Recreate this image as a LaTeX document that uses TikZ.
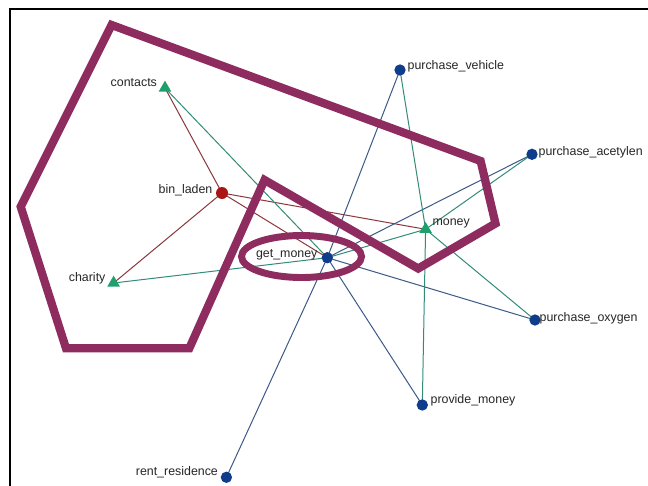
\documentclass[tikz,border=0pt]{standalone}
\usepackage{fontspec}
\setmainfont{Liberation Sans}
\usetikzlibrary{shapes.geometric}
\definecolor{hull}{RGB}{142,44,96}
\definecolor{agentblue}{RGB}{16,60,140}
\definecolor{ladenred}{RGB}{170,20,20}
\definecolor{resgreen}{RGB}{30,160,110}
\definecolor{edgered}{RGB}{140,55,60}
\definecolor{edgeteal}{RGB}{50,140,120}
\definecolor{edgeblue}{RGB}{60,90,135}
\tikzset{
  agent/.style={circle,fill=agentblue,inner sep=0pt,minimum size=8.5pt},
  leader/.style={circle,fill=ladenred,inner sep=0pt,minimum size=9pt},
  res/.style={regular polygon,regular polygon sides=3,fill=resgreen,inner sep=0pt,minimum size=11pt},
  lab/.style={font=\fontsize{9.3}{10}\selectfont,inner sep=1pt,text=black!85},
  redge/.style={draw=edgered,line width=0.75pt},
  tedge/.style={draw=edgeteal,line width=0.75pt},
  bedge/.style={draw=edgeblue,line width=0.75pt},
  hullline/.style={draw=hull,line width=6.2pt,line join=miter}
}
\begin{document}
\begin{tikzpicture}[x=0.75pt,y=-0.75pt]
\useasboundingbox (0,0) rectangle (648,485);
\fill[white] (0,0) rectangle (648,485);
\draw[black,line width=1.5pt] (10,490) -- (10,9) -- (650,9);
% node positions
\coordinate (pcon) at (165,88);
\coordinate (pbl) at (222,193);
\coordinate (pcha) at (113.6,283);
\coordinate (pgm) at (327.3,257.7);
\coordinate (pmon) at (425.6,229.3);
\coordinate (ppv) at (400,70);
\coordinate (ppa) at (532,154.3);
\coordinate (ppo) at (535,320);
\coordinate (ppm) at (422.3,405);
\coordinate (prr) at (226.4,477.3);
% edges
\draw[redge] (pbl) -- (pcon);
\draw[redge] (pbl) -- (pcha);
\draw[redge] (pbl) -- (pgm);
\draw[redge] (pbl) -- (pmon);
\draw[tedge] (pcon) -- (pgm);
\draw[tedge] (pcha) -- (pgm);
\draw[tedge] (pgm) -- (pmon);
\draw[bedge] (pgm) -- (ppv);
\draw[bedge] (pgm) -- (ppa);
\draw[bedge] (pgm) -- (ppo);
\draw[bedge] (pgm) -- (ppm);
\draw[bedge] (pgm) -- (prr);
\draw[tedge] (ppv) -- (pmon);
\draw[tedge] (pmon) -- (ppm);
\draw[tedge] (pmon) -- (ppa);
\draw[tedge] (pmon) -- (ppo);
% hull shapes
\draw[hullline] (111.6,25) -- (480.6,161) -- (495.5,223.5) -- (418.2,268.5) -- (264.5,180) -- (189.3,348.3) -- (66,348.3) -- (20.7,206.7) -- cycle;
\draw[draw=hull,line width=5.2pt] (301.5,256.5) ellipse [x radius=60,y radius=21];
% nodes
\node[res] (con) at (pcon) {};
\node[leader] (bl) at (pbl) {};
\node[res] (cha) at (pcha) {};
\node[agent] (gm) at (pgm) {};
\node[res] (mon) at (pmon) {};
\node[agent] (pv) at (ppv) {};
\node[agent] (pa) at (ppa) {};
\node[agent] (po) at (ppo) {};
\node[agent] (pm) at (ppm) {};
\node[agent] (rr) at (prr) {};
% labels
\node[lab,anchor=east] (lcon) at (158.5,83) {contacts};
\node[lab,anchor=east] (lbl) at (214,190.5) {bin\_laden};
\node[lab,anchor=east] (lcha) at (107,278) {charity};
\node[lab,anchor=east] (lgm) at (319,255) {get\_money};
\node[lab,anchor=east] (lrr) at (219.5,472) {rent\_residence};
\node[lab,anchor=west] (lmon) at (431,223) {money};
\node[lab,anchor=west] (lpv) at (406,66.5) {purchase\_vehicle};
\node[lab,anchor=west] (lpa) at (537,152) {purchase\_acetylen};
\node[lab,anchor=west] (lpo) at (538,318) {purchase\_oxygen};
\node[lab,anchor=west] (lpm) at (429,400) {provide\_money};
\end{tikzpicture}
\end{document}
